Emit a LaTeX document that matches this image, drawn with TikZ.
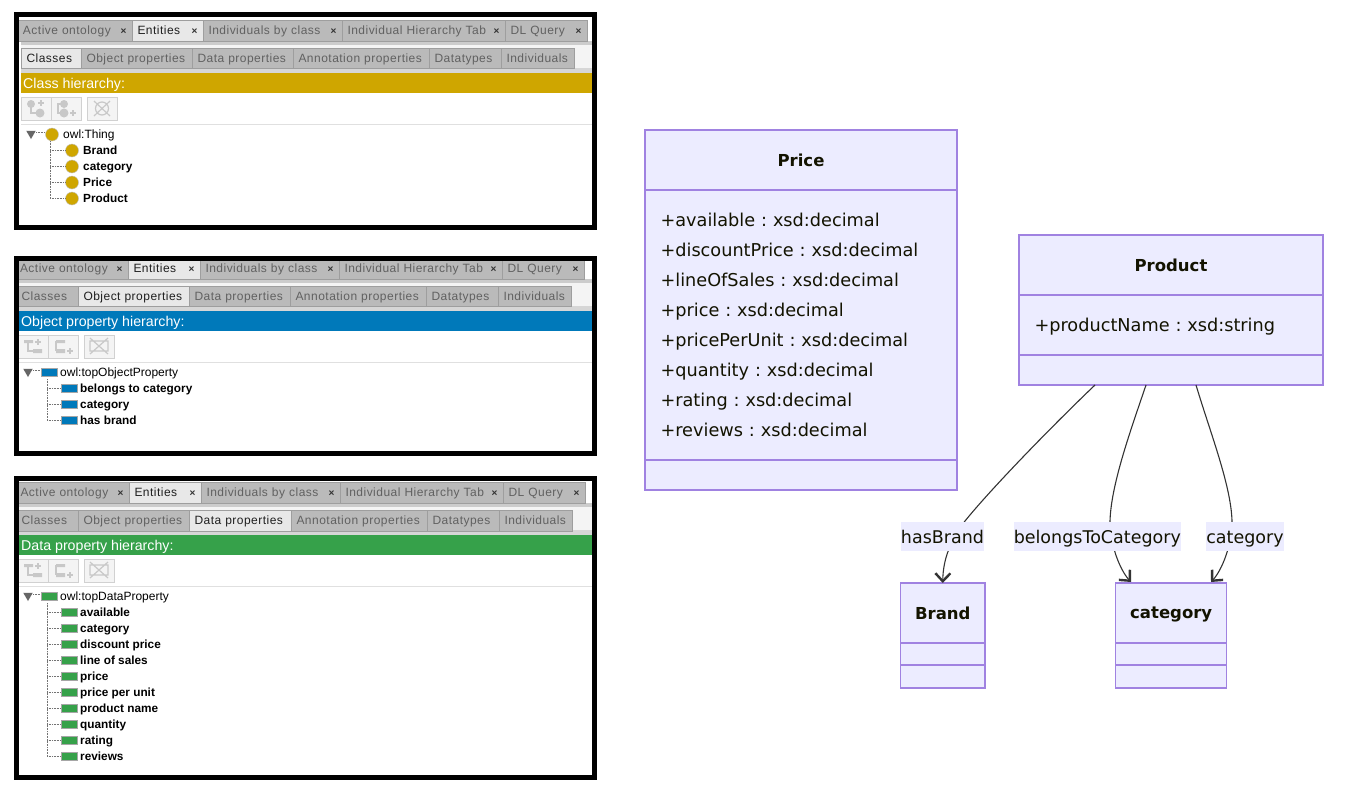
\documentclass[tikz,border=0pt]{standalone}
\usepackage{fontspec}
\setmainfont{Liberation Sans}
\newfontfamily\tabfont[LetterSpace=4]{Liberation Sans}
\newfontfamily\umlfont{DejaVu Sans}
\usetikzlibrary{arrows.meta,positioning,shapes.geometric}
\definecolor{umlfill}{RGB}{236,236,255}
\definecolor{umlline}{RGB}{160,130,225}
\definecolor{umlink}{RGB}{19,19,0}
\definecolor{edgeink}{RGB}{51,51,51}
\definecolor{classgold}{RGB}{207,166,0}
\definecolor{objblue}{RGB}{0,121,186}
\definecolor{datagreen}{RGB}{54,161,74}
\definecolor{toolgray}{RGB}{200,200,200}
\definecolor{barbg}{RGB}{244,244,244}
\frenchspacing
\tikzset{
  taboff/.style={fill=black!27, text=black!62},
  tabon/.style={fill=black!9, text=black!88},
  tabcell/.style={draw=black!38, line width=1pt, inner xsep=5.5pt, inner ysep=0pt, outer sep=0pt, align=left, text height=10pt, text depth=2pt, font=\fontsize{12}{14}\tabfont},
  treelabel/.style={anchor=west, inner sep=0pt, text height=10pt, text depth=2pt, font=\fontsize{12}{14}\selectfont},
  thingicon/.style={circle, fill=classgold, draw=black!25, minimum size=13pt, inner sep=0pt},
  objicon/.style={rectangle, fill=objblue, draw=black!35, minimum width=16pt, minimum height=8pt, inner sep=0pt},
  dataicon/.style={rectangle, fill=datagreen, draw=black!35, minimum width=16pt, minimum height=8pt, inner sep=0pt},
  treedot/.style={densely dotted, black!55, line width=.6pt},
  btn/.style={draw=black!18, fill=barbg, line width=.9pt},
  toolmark/.style={toolgray, line width=1.2pt},
  umlbox/.style={draw=umlline, fill=umlfill, line width=1.5pt, outer sep=0pt, inner sep=0pt, text=umlink},
  umlhead/.style={umlbox, text depth=0pt, font=\fontsize{16.5}{20}\umlfont\bfseries},
  umlbody/.style={umlbox, inner xsep=15.5pt, align=left, font=\fontsize{17.7}{30}\umlfont},
  edgelabel/.style={fill=umlfill, text=umlink, inner sep=0pt, minimum height=29pt, text height=15pt, text depth=2pt, font=\fontsize{17.5}{20}\umlfont},
  umledge/.style={edgeink, line width=1.1pt, -{Straight Barb[length=8pt,width=15pt,line width=2.4pt]}},
}
% shell of one tool window: top and bottom of the frame, colour, title
\newcommand{\panelshell}[5]{%
  \fill[white] (16,#1) rectangle (595,#2);
  \fill[black!20] (#3,41) rectangle (592,45);
  \fill[barbg] (#3,45) rectangle (592,93);
  \fill[black!16] (#3,68) rectangle (592,73);
  \fill[#4] (#3,73) rectangle (592,93);
  \node[anchor=west, inner sep=0pt, text=white, text height=12pt, text depth=1pt, font=\fontsize{14.2}{15}\selectfont] (title#4) at (#3+2,83) {#5};
  \draw[black!12] (#3,124) -- (592,124);
}
\newcommand{\panelframe}[2]{%
  \draw[black, line width=5pt] (16.5,#1) rectangle (594.5,#2);
}
% one row of tabs
\newcommand{\tabstrip}[5]{%
  \foreach \xa/\xb/\lab/\st [count=\k] in {#5} {
    \pgfmathsetlengthmacro\tabw{\xb-\xa-11}
    \node[tabcell, \st, text width=\tabw, minimum height={(#3-#2)*1pt}, anchor=north west] (#1\k) at (\xa,#2) {\lab#4};
  }
}
\newcommand{\closex}{\hfill\textcolor{black!80}{\fontsize{10}{10}\selectfont\bfseries ×}}
% tree under the toolbar
\newcommand{\ontotree}[5]{%
  \node[regular polygon, regular polygon sides=3, shape border rotate=180, fill=black!60, inner sep=0pt, minimum size=11pt] (#1tri) at (31+#2,133.5) {};
  \node[#3] (#1root) at (52+#2,134.5) {};
  \node[treelabel] (#1rootlab) at (63+#2,134.5) {#4};
  \coordinate (#1trunk) at (50+#2,141);
  \draw[treedot] (#1tri.east) ++(0,-1) -- (#1root.west |- 0,132.5);
  \foreach \lab [count=\k] in {#5} {
    \node[#3] (#1c\k) at (72+#2,134.5+16*\k) {};
    \node[treelabel, font=\fontsize{11.8}{14}\selectfont\bfseries] (#1t\k) at (83+#2,134.5+16*\k) {\lab};
    \draw[treedot] (#1trunk) |- (#1c\k.west);
  }
}
\newcommand{\classtools}{%
  \foreach \xa/\xb in {21/51,51/81,87/117} {\draw[btn] (\xa,97) rectangle (\xb,120);}
  \draw[toolmark] (31,104) |- (40,113);
  \fill[toolgray] (31,104) circle (4) (40,113) circle (4.5);
  \draw[toolmark] (38,103) -- (44,103) (41,100) -- (41,106);
  \draw[toolmark] (64,104) -| (58,113) -- (64,113);
  \fill[toolgray] (64,104) circle (4) (64,113) circle (4.5);
  \draw[toolmark] (70,113) -- (76,113) (73,110) -- (73,116);
  \draw[toolmark] (102,108.5) circle (6.5) (94,101) -- (110,116) (110,101) -- (94,116);
}
\newcommand{\proptools}{%
  \foreach \xa/\xb in {18/48,48/78,84/114} {\draw[btn] (\xa,97) rectangle (\xb,120);}
  \draw[toolmark] (28,104) |- (33,113);
  \fill[toolgray] (24,102) rectangle (33,105) (33,111) rectangle (42,115);
  \draw[toolmark] (35,104) -- (41,104) (38,101) -- (38,107);
  \draw[toolmark] (56,103) -- (56,113);
  \fill[toolgray] (56,102) rectangle (65,105) (56,111) rectangle (65,115);
  \draw[toolmark] (67,113) -- (73,113) (70,110) -- (70,116);
  \draw[toolmark] (90,103) rectangle (108,113) (90,100) -- (108,116) (108,100) -- (90,116);
}
\begin{document}
\begin{tikzpicture}[x=1pt, y=-1pt]
\useasboundingbox (0,0) rectangle (1351,798);

% Classes window
\panelshell{14}{228}{21}{classgold}{Class hierarchy:}
\tabstrip{pa}{20}{41}{\closex}{17.5/132/Active ontology/taboff, 132/203/Entities/tabon, 203/342/Individuals by class/taboff, 342/505/Individual Hierarchy Tab/taboff, 505/587/DL Query/taboff}
\tabstrip{pb}{48}{68}{}{21/81/Classes/tabon, 81/192/Object properties/taboff, 192/293/Data properties/taboff, 293/429/Annotation properties/taboff, 429/501/Datatypes/taboff, 501/574/Individuals/taboff}
\classtools
\ontotree{pc}{0}{thingicon}{owl:Thing}{Brand,category,Price,Product}
\panelframe{14.5}{227.5}

% Object properties window
\begin{scope}[yshift=-238pt]
\panelshell{20}{216}{19}{objblue}{Object property hierarchy:}
\tabstrip{qa}{20}{41}{\closex}{14.5/128/Active ontology/taboff, 128/200/Entities/tabon, 200/339/Individuals by class/taboff, 339/502/Individual Hierarchy Tab/taboff, 502/584/DL Query/taboff}
\tabstrip{qb}{48}{68}{}{16/78/Classes/taboff, 78/189/Object properties/tabon, 189/290/Data properties/taboff, 290/426/Annotation properties/taboff, 426/498/Datatypes/taboff, 498/571/Individuals/taboff}
\proptools
\ontotree{qc}{-3}{objicon}{owl:topObjectProperty}{belongs to category,category,has brand}
\panelframe{20.5}{215.5}
\end{scope}

% Data properties window
\begin{scope}[yshift=-462pt]
\panelshell{16}{316}{19}{datagreen}{Data property hierarchy:}
\tabstrip{ra}{20}{41}{\closex}{15/129/Active ontology/taboff, 129/201/Entities/tabon, 201/340/Individuals by class/taboff, 340/503/Individual Hierarchy Tab/taboff, 503/585/DL Query/taboff}
\tabstrip{rb}{48}{69}{}{16/78/Classes/taboff, 78/189/Object properties/taboff, 189/291/Data properties/tabon, 291/427/Annotation properties/taboff, 427/499/Datatypes/taboff, 499/572/Individuals/taboff}
\proptools
\ontotree{rc}{-3}{dataicon}{owl:topDataProperty}{available,category,discount price,line of sales,price,price per unit,product name,quantity,rating,reviews}
\panelframe{16.5}{315.5}
\end{scope}

% class diagram
\node[umlhead, minimum width=312pt, minimum height=60pt, anchor=north west] (priceHead) at (645,130) {Price};
\node[umlbody, below=0pt of priceHead, text width=281pt, minimum height=270pt] (priceBody) {+available : xsd:decimal\\+discountPrice : xsd:decimal\\+lineOfSales : xsd:decimal\\+price : xsd:decimal\\+pricePerUnit : xsd:decimal\\+quantity : xsd:decimal\\+rating : xsd:decimal\\+reviews : xsd:decimal};
\node[umlbox, below=0pt of priceBody, minimum width=312pt, minimum height=30pt] (priceFoot) {};

\node[umlhead, minimum width=304pt, minimum height=60pt, anchor=north west] (productHead) at (1019,235) {Product};
\node[umlbody, below=0pt of productHead, text width=273pt, text depth=0pt, minimum height=60pt] (productBody) {+productName : xsd:string};
\node[umlbox, below=0pt of productBody, minimum width=304pt, minimum height=30pt] (productFoot) {};

\node[umlhead, minimum width=84.5pt, minimum height=60pt, anchor=north west] (brandHead) at (900.5,583) {Brand};
\node[umlbox, below=0pt of brandHead, minimum width=84.5pt, minimum height=22pt] (brandMid) {};
\node[umlbox, below=0pt of brandMid, minimum width=84.5pt, minimum height=23pt] (brandFoot) {};

\node[umlhead, minimum width=111pt, minimum height=60pt, anchor=north west] (catHead) at (1115.7,583) {category};
\node[umlbox, below=0pt of catHead, minimum width=111pt, minimum height=22pt] (catMid) {};
\node[umlbox, below=0pt of catMid, minimum width=111pt, minimum height=23pt] (catFoot) {};

\coordinate (outBrand) at (1095,385);
\coordinate (outBelongs) at (1146,385);
\coordinate (outCategory) at (1196,385);
\coordinate (inBelongs) at (1131,582);
\coordinate (inCategory) at (1211,582);

\draw[umledge] (outBrand) .. controls (1050,428) and (990,490) .. (965,521) .. controls (950,541) and (943,560) .. (brandHead.north);
\draw[umledge] (outBelongs) .. controls (1130,432) and (1111,485) .. (1110,521) .. controls (1110,545) and (1120,570) .. (inBelongs);
\draw[umledge] (outCategory) .. controls (1210,432) and (1231,485) .. (1232,521) .. controls (1232,545) and (1222,570) .. (inCategory);

\node[edgelabel] (brandEdge) at (942.5,536.5) {hasBrand};
\node[edgelabel] (belongsEdge) at (1097.3,536.5) {belongsToCategory};
\node[edgelabel] (categoryEdge) at (1245,536.5) {category};
\end{tikzpicture}
\end{document}
